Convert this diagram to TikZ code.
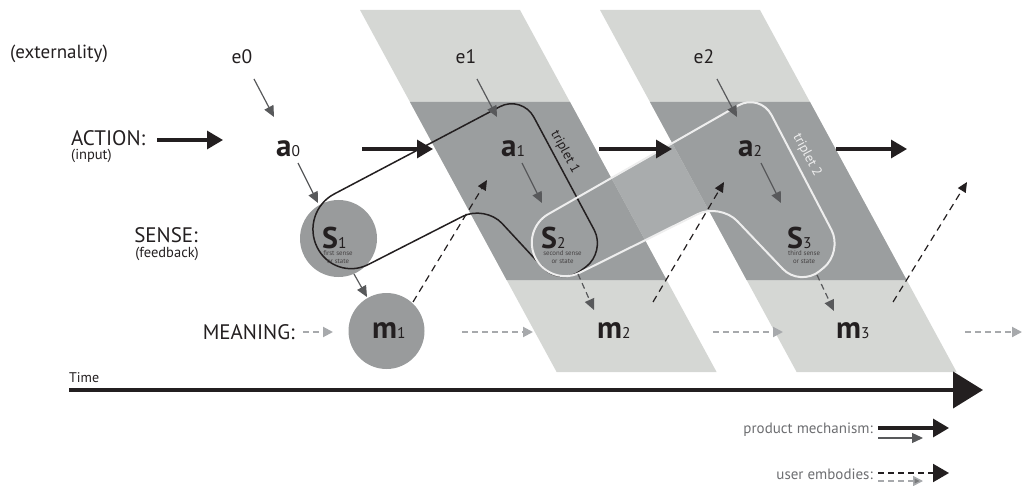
\documentclass[tikz,border=0pt]{standalone}
\usepackage{fontspec}
\setmainfont{PT Sans}
\usetikzlibrary{arrows.meta,calc}
\definecolor{ink}{HTML}{231F20}
\definecolor{lightband}{HTML}{D5D7D4}
\definecolor{darkband}{HTML}{9B9E9F}
\definecolor{strip}{HTML}{A9ACAD}
\definecolor{circ}{HTML}{999B9C}
\definecolor{arrgray}{HTML}{58595B}
\definecolor{dashgray}{HTML}{A7A9AC}
\definecolor{legtext}{HTML}{6D6E71}
\definecolor{tripwhite}{HTML}{EEEEEE}
\newcommand\fs[1]{\fontsize{#1}{#1}\selectfont}
\newcommand\tripTwoPath{(535.8,258.5)
 .. controls ($(t2v1)!14.3pt!(t2v2)$) and ($(t2v1)!14.3pt!(t2a)$) .. ($(t2v1)!32pt!(t2a)$)
 -- ($(t2a)!25pt!(t2v1)$) .. controls ($(t2a)!11.2pt!(t2v1)$) and ($(t2a)!11.2pt!(t2c)$) .. ($(t2a)!25pt!(t2c)$)
 -- ($(t2c)!25pt!(t2a)$) .. controls ($(t2c)!11.2pt!(t2a)$) and ($(t2c)!11.2pt!(t2d)$) .. ($(t2c)!25pt!(t2d)$)
 -- ($(t2d)!25pt!(t2c)$) .. controls ($(t2d)!11.2pt!(t2c)$) and ($(t2d)!11.2pt!(t2b)$) .. ($(t2d)!25pt!(t2b)$)
 -- ($(t2b)!25pt!(t2d)$) .. controls ($(t2b)!11.2pt!(t2d)$) and ($(t2b)!11.2pt!(t2v2)$) .. ($(t2b)!25pt!(t2v2)$)
 -- ($(t2v2)!32pt!(t2b)$) .. controls ($(t2v2)!14.3pt!(t2b)$) and ($(t2v2)!14.3pt!(t2v1)$) .. (535.8,258.5) -- cycle}
\begin{document}
\begin{tikzpicture}[x=1pt,y=-1pt,
  lbl/.style={text=ink, inner sep=0pt},
  bigarr/.style={draw=ink, line width=3.3pt, -{Triangle[length=16pt,width=18pt]}},
  smallarr/.style={draw=arrgray, line width=1.2pt, -{Triangle[length=11pt,width=10pt]}},
  sdash/.style={draw=arrgray, line width=1.2pt, dash pattern=on 6pt off 4pt, -{Triangle[length=11pt,width=10pt]}},
  updash/.style={draw=ink, line width=1.2pt, dash pattern=on 7pt off 5pt, -{Triangle[length=10pt,width=9pt]}},
  mdash/.style={draw=dashgray, line width=2pt, dash pattern=on 6pt off 4pt, -{Triangle[length=10pt,width=10pt]}},
  bubble/.style={fill=circ, draw=none},
  captxt/.style={text=ink!85, inner sep=0pt, align=center, font=\fontsize{6.8}{8}\selectfont},
  tlabel/.style={inner sep=0pt, font=\fs{13.5}},
  legtxt/.style={text=legtext, inner sep=0pt, font=\fs{15}, anchor=base east}
]
\useasboundingbox (0,0) rectangle (1024,486);

% triplet coordinates
\coordinate (t1v1) at (300,212);
\coordinate (t1a) at (522,95);
\coordinate (t1c) at (606,252);
\coordinate (t1d) at (560,286);
\coordinate (t1b) at (485,205);
\coordinate (t1v2) at (334,282);
\coordinate (t2v1) at (520.5,230);
\coordinate (t2a) at (760,93);
\coordinate (t2c) at (843,252);
\coordinate (t2d) at (800,287);
\coordinate (t2b) at (720,203);
\coordinate (t2v2) at (551,287);

% triplet 2 fill (under the bands)
\fill[strip] \tripTwoPath;

% bands
\fill[lightband] (360,10) -- (520,10) -- (716.6,372) -- (556.6,372) -- cycle;
\fill[darkband] (410,102) -- (570,102) -- (666.6,280) -- (506.6,280) -- cycle;
\fill[lightband] (600,10) -- (760,10) -- (956.6,372) -- (796.6,372) -- cycle;
\fill[darkband] (650,102) -- (810,102) -- (906.6,280) -- (746.6,280) -- cycle;

% circles
\fill[bubble] (338.5,238.5) circle[radius=38.5];
\fill[bubble] (386.5,331) circle[radius=38];

% triplet outlines
\draw[ink, line width=1.5pt] (317,247)
 .. controls ($(t1v1)!17.2pt!(t1v2)$) and ($(t1v1)!17.2pt!(t1a)$) .. ($(t1v1)!38.5pt!(t1a)$)
 -- ($(t1a)!25pt!(t1v1)$) .. controls ($(t1a)!11.2pt!(t1v1)$) and ($(t1a)!11.2pt!(t1c)$) .. ($(t1a)!25pt!(t1c)$)
 -- ($(t1c)!25pt!(t1a)$) .. controls ($(t1c)!11.2pt!(t1a)$) and ($(t1c)!11.2pt!(t1d)$) .. ($(t1c)!25pt!(t1d)$)
 -- ($(t1d)!25pt!(t1c)$) .. controls ($(t1d)!11.2pt!(t1c)$) and ($(t1d)!11.2pt!(t1b)$) .. ($(t1d)!25pt!(t1b)$)
 -- ($(t1b)!25pt!(t1d)$) .. controls ($(t1b)!11.2pt!(t1d)$) and ($(t1b)!11.2pt!(t1v2)$) .. ($(t1b)!25pt!(t1v2)$)
 -- ($(t1v2)!38.5pt!(t1b)$) .. controls ($(t1v2)!17.2pt!(t1b)$) and ($(t1v2)!17.2pt!(t1v1)$) .. (317,247) -- cycle;
\draw[tripwhite, line width=2pt] \tripTwoPath;

\node[tlabel, text=ink, rotate=-61.7] (trip1) at (565,152) {triplet 1};
\node[tlabel, text=tripwhite, rotate=-62.3] (trip2) at (807,155) {triplet 2};

% left labels
\node[lbl, anchor=base west, font=\fs{19}] (ext) at (10,59) {(externality)};
\node[lbl, anchor=base west, font=\fs{21}] (act) at (71,146) {ACTION:};
\node[lbl, anchor=base west, font=\fs{14.5}] (inp) at (71,160) {(input)};
\node[lbl, anchor=base east, font=\fs{21}] (sense) at (198,242) {SENSE:};
\node[lbl, anchor=base east, font=\fs{14.5}] (feed) at (199,257) {(feedback)};
\node[lbl, anchor=base east, font=\fs{21}] (mean) at (295,339) {MEANING:};
\node[lbl, anchor=base west, font=\fs{14}] (time) at (69,382) {Time};

% e labels
\node[lbl, anchor=base, font=\fs{19.5}] (e0) at (242,64) {e0};
\node[lbl, anchor=base, font=\fs{19.5}] (e1) at (466,64) {e1};
\node[lbl, anchor=base, font=\fs{19.5}] (e2) at (704,64) {e2};

% a labels
\node[lbl, anchor=base west] (a0) at (276,157) {\fs{31}\bfseries a\fs{15.5}\mdseries 0};
\node[lbl, anchor=base west] (a1) at (501,157) {\fs{31}\bfseries a\fs{15.5}\mdseries 1};
\node[lbl, anchor=base west] (a2) at (738,157) {\fs{31}\bfseries a\fs{15.5}\mdseries 2};

% S labels
\node[lbl, anchor=base west] (s1) at (322,248) {\fs{30}\bfseries S\fs{15.5}\mdseries 1};
\node[lbl, anchor=base west] (s2) at (541,248) {\fs{30}\bfseries S\fs{15.5}\mdseries 2};
\node[lbl, anchor=base west] (s3) at (787,248) {\fs{30}\bfseries S\fs{15.5}\mdseries 3};
\node[captxt] (c1) at (338,257.5) {first sense\\or state};
\node[captxt] (c2) at (562.5,257.5) {second sense\\or state};
\node[captxt] (c3) at (804,257.5) {third sense\\or state};

% m labels
\node[lbl, anchor=base west] (m1) at (372,338) {\fs{31}\bfseries m\fs{15.5}\mdseries 1};
\node[lbl, anchor=base west] (m2) at (597,338) {\fs{31}\bfseries m\fs{15.5}\mdseries 2};
\node[lbl, anchor=base west] (m3) at (836,338) {\fs{31}\bfseries m\fs{15.5}\mdseries 3};

% connector end points
\coordinate (actS) at (157,140); \coordinate (actE) at (223,140);
\coordinate (b1s) at (362,149); \coordinate (b1e) at (433,149);
\coordinate (b2s) at (599,149); \coordinate (b2e) at (672,149);
\coordinate (b3s) at (836,149); \coordinate (b3e) at (907,149);
\coordinate (ea0s) at (254,79); \coordinate (ea0e) at (274,117);
\coordinate (ea1s) at (477,79); \coordinate (ea1e) at (497,117);
\coordinate (ea2s) at (717,79); \coordinate (ea2e) at (737,117);
\coordinate (as0s) at (298,163); \coordinate (as0e) at (318,203);
\coordinate (as1s) at (522,163); \coordinate (as1e) at (542,203);
\coordinate (as2s) at (761,163); \coordinate (as2e) at (781,203);
\coordinate (sm1s) at (354,274); \coordinate (sm1e) at (367,297);
\coordinate (sm2s) at (578,274); \coordinate (sm2e) at (594,310);
\coordinate (sm3s) at (817,275); \coordinate (sm3e) at (834,311);
\coordinate (up1s) at (413,302); \coordinate (up1e) at (487,180);
\coordinate (up2s) at (653,302); \coordinate (up2e) at (724,182);
\coordinate (up3s) at (893,302); \coordinate (up3e) at (967,182);
\coordinate (md0s) at (303,332); \coordinate (md0e) at (333,332);
\coordinate (md1s) at (462,332); \coordinate (md1e) at (533,332);
\coordinate (md2s) at (713,332); \coordinate (md2e) at (783,332);
\coordinate (md3s) at (965,332); \coordinate (md3e) at (1022,332);
\coordinate (tS) at (69,390); \coordinate (tE) at (983,390);

% action arrows
\draw[bigarr] (actS) -- (actE);
\draw[bigarr] (b1s) -- (b1e);
\draw[bigarr] (b2s) -- (b2e);
\draw[bigarr] (b3s) -- (b3e);

% small arrows
\draw[smallarr] (ea0s) -- (ea0e);
\draw[smallarr] (ea1s) -- (ea1e);
\draw[smallarr] (ea2s) -- (ea2e);
\draw[smallarr] (as0s) -- (as0e);
\draw[smallarr] (as1s) -- (as1e);
\draw[smallarr] (as2s) -- (as2e);
\draw[smallarr] (sm1s) -- (sm1e);
\draw[sdash] (sm2s) -- (sm2e);
\draw[sdash] (sm3s) -- (sm3e);

% user embodies arrows
\draw[updash] (up1s) -- (up1e);
\draw[updash] (up2s) -- (up2e);
\draw[updash] (up3s) -- (up3e);
\draw[mdash] (md0s) -- (md0e);
\draw[mdash] (md1s) -- (md1e);
\draw[mdash] (md2s) -- (md2e);
\draw[mdash] (md3s) -- (md3e);

% time
\draw[draw=ink, line width=4pt, -{Triangle[length=30pt,width=36pt]}] (tS) -- (tE);

% legend
\node[legtxt] (lg1) at (873,433) {product mechanism:};
\node[legtxt] (lg2) at (873,479) {user embodies:};
\coordinate (l1s) at (878,428); \coordinate (l1e) at (949,428);
\coordinate (l2s) at (878,438); \coordinate (l2e) at (923,438);
\coordinate (l3s) at (878,473); \coordinate (l3e) at (949,473);
\coordinate (l4s) at (878,481); \coordinate (l4e) at (923,481);
\draw[bigarr] (l1s) -- (l1e);
\draw[smallarr] (l2s) -- (l2e);
\draw[draw=ink, line width=2pt, dash pattern=on 6pt off 4pt, -{Triangle[length=16pt,width=18pt]}] (l3s) -- (l3e);
\draw[draw=dashgray, line width=1.5pt, dash pattern=on 6pt off 4pt, -{Triangle[length=10pt,width=10pt,fill=arrgray!80]}] (l4s) -- (l4e);
\end{tikzpicture}
\end{document}
